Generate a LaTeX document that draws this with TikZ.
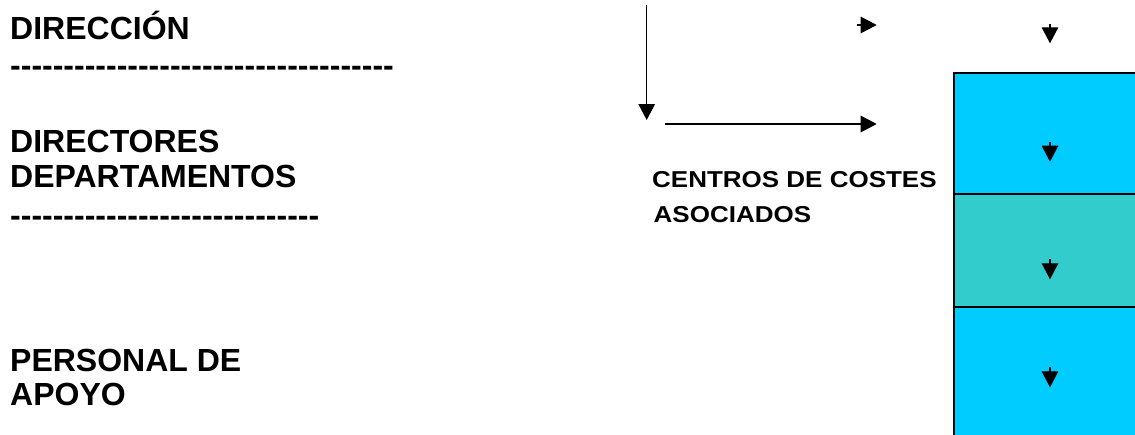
\documentclass[tikz,border=0pt]{standalone}
\usepackage{fontspec}
\setmainfont{Liberation Sans}
\usetikzlibrary{arrows.meta}
\definecolor{boxcyan}{HTML}{00CCFF}
\definecolor{boxteal}{HTML}{33CCCC}
\newcommand\dashrow[1]{\foreach\k in {1,...,#1}{-{}}}
\tikzset{
  biglabel/.style={anchor=base west, inner sep=0pt,
    font=\bfseries\fontsize{32}{36}\selectfont},
  smalllabel/.style={anchor=base west, inner sep=0pt,
    font=\bfseries\fontsize{23}{27}\selectfont},
  flow/.style={-{Triangle[length=16pt,width=16.5pt]}, line width=1.3pt},
  band/.style={draw, line width=1.8pt}
}
\begin{document}
\begin{tikzpicture}[x=1pt,y=-1pt]
  \useasboundingbox (0,0) rectangle (1135,434);
  \clip (0,0) rectangle (1135,434);
  % levels on the left
  \draw
    (10,39) node[biglabel] (dir){DIRECCIÓN}
    (10,76.2) node[biglabel] (dashA){\dashrow{36}}
    (10,152.5) node[biglabel] (dirA){DIRECTORES}
    (10,187.5) node[biglabel] (dirB){DEPARTAMENTOS}
    (10,226.2) node[biglabel] (dashB){\dashrow{29}}
    (10,371.7) node[biglabel] (perA){PERSONAL DE}
    (10,405) node[biglabel] (perB){APOYO}
    (652,187.5) node[smalllabel] (cenA){\scalebox{1.13}[1]{CENTROS DE COSTES}}
    (653.5,222.5) node[smalllabel] (cenB){\scalebox{1.13}[1]{ASOCIADOS}};
  % coloured bands
  \draw[band, fill=boxcyan] (954,73.3) rectangle (1145,194.3);
  \draw[band, fill=boxteal] (954,194.3) rectangle (1145,306.7);
  \draw[band, fill=boxcyan] (954,306.7) rectangle (1145,445);
  % arrow ends
  \coordinate (vs) at (646.7,5);
  \coordinate (ve) at (646.7,120);
  \coordinate (hs) at (665,124);
  \coordinate (he) at (876.7,124);
  \coordinate (ts) at (857.3,25);
  \coordinate (te) at (876.7,25);
  \coordinate (r0s) at (1050,24);
  \coordinate (r0e) at (1050,43.3);
  \coordinate (r1s) at (1050,141.7);
  \coordinate (r1e) at (1050,161.7);
  \coordinate (r2s) at (1050,259);
  \coordinate (r2e) at (1050,279.3);
  \coordinate (r3s) at (1050,367.3);
  \coordinate (r3e) at (1050,387.3);
  \begin{scope}[flow]
    \draw (vs) to (ve);
    \draw (hs) to (he);
    \draw (ts) to (te);
    \draw (r0s) to (r0e);
    \draw (r1s) to (r1e);
    \draw (r2s) to (r2e);
    \draw (r3s) to (r3e);
  \end{scope}
\end{tikzpicture}
\end{document}
